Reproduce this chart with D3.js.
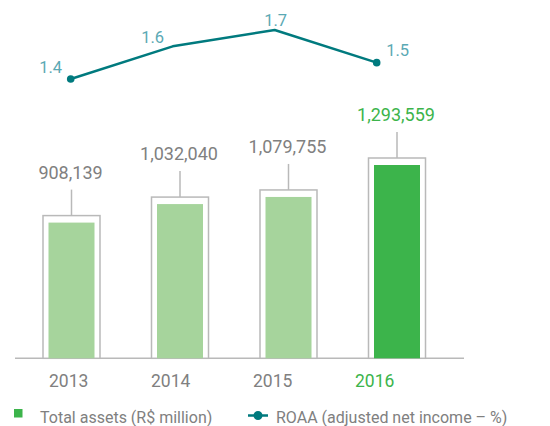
<!DOCTYPE html>
<html><head><meta charset="utf-8">
<script src="https://cdn.jsdelivr.net/npm/d3@7"></script>
<style>body{margin:0;background:#fff}svg{display:block;font-family:Roboto,"Liberation Sans",sans-serif}</style>
</head><body><svg id="c" width="550" height="426"></svg>
<script>
const years = ["2013","2014","2015","2016"];
const totalAssets = [908139, 1032040, 1079755, 1293559];
const roaa = [1.4, 1.6, 1.7, 1.5];
const legendLabels = ["Total assets (R$ million)", "ROAA (adjusted net income – %)"];

const grey = "#808080", light = "#a6d49c", dark = "#3cb44b", outline = "#b9b9b9", teal = "#007a7e", tealText = "#5aa9b4";
const svg = d3.select("#c");
const base = 358.3;

const xLine = d3.scalePoint().domain(years).range([70.7, 376.7]);
const xBar = d3.scalePoint().domain(years).range([71.5, 397]);
const yBar = d3.scaleLinear().domain([0, 1293559]).range([base, 165]);
const yLine = d3.scaleLinear().domain([1.4, 1.7]).range([79, 30]);
const fmt = d3.format(",");
const last = years.length - 1;
const innerW = 46, pad = 5.5, topPad = 7, lead = 26;

// axis baseline
svg.append("line").attr("x1", 15).attr("x2", 464).attr("y1", base).attr("y2", base)
  .attr("stroke", outline).attr("stroke-width", 1.5);

const g = svg.selectAll("g.bar").data(years).join("g").attr("class", "bar");
g.append("rect")
  .attr("x", d => xBar(d) - innerW/2 - pad)
  .attr("y", (d,i) => yBar(totalAssets[i]) - topPad)
  .attr("width", innerW + 2*pad)
  .attr("height", (d,i) => base - yBar(totalAssets[i]) + topPad)
  .attr("fill", "#fff").attr("stroke", outline).attr("stroke-width", 1.5);
g.append("rect")
  .attr("x", d => xBar(d) - innerW/2)
  .attr("y", (d,i) => yBar(totalAssets[i]))
  .attr("width", innerW)
  .attr("height", (d,i) => base - yBar(totalAssets[i]))
  .attr("fill", (d,i) => i === last ? dark : light);
g.append("line")
  .attr("x1", d => xBar(d)).attr("x2", d => xBar(d))
  .attr("y1", (d,i) => yBar(totalAssets[i]) - topPad)
  .attr("y2", (d,i) => yBar(totalAssets[i]) - topPad - lead)
  .attr("stroke", outline).attr("stroke-width", 1.5);
g.append("text")
  .attr("x", d => xBar(d) - 1)
  .attr("y", (d,i) => yBar(totalAssets[i]) - topPad - lead - 11)
  .attr("text-anchor", "middle").attr("font-size", 18)
  .attr("fill", (d,i) => i === last ? dark : grey)
  .text((d,i) => fmt(totalAssets[i]));

// year labels
svg.selectAll("text.year").data(years).join("text").attr("class", "year")
  .attr("x", d => xLine(d) - 2).attr("y", 386.7)
  .attr("text-anchor", "middle").attr("font-size", 17.5)
  .attr("fill", (d,i) => i === last ? dark : grey)
  .text(d => d);

// ROAA line
const line = d3.line().x((d,i) => xLine(years[i])).y(d => yLine(d));
svg.append("path").datum(roaa).attr("d", line)
  .attr("fill", "none").attr("stroke", teal).attr("stroke-width", 2.5).attr("stroke-linejoin", "round");
svg.selectAll("circle.pt").data([0, last]).join("circle").attr("class", "pt")
  .attr("cx", i => xLine(years[i])).attr("cy", i => yLine(roaa[i])).attr("r", 3.8).attr("fill", teal);
const peak = roaa.indexOf(d3.max(roaa));
svg.selectAll("text.roaa").data(roaa).join("text").attr("class", "roaa")
  .attr("x", (d,i) => xLine(years[i]) + (i === peak ? 1 : i === last ? 21 : -20))
  .attr("y", (d,i) => yLine(d) - (i === peak ? 4.5 : i === 0 || i === last ? 6.5 : 3.5))
  .attr("text-anchor", "middle").attr("font-size", 16.5).attr("fill", tealText)
  .text(d => d.toFixed(1));

// legend
svg.append("rect").attr("x", 14).attr("y", 409).attr("width", 8.5).attr("height", 8.5).attr("fill", dark);
svg.append("text").attr("x", 40).attr("y", 422.5).attr("font-size", 16).attr("fill", grey).text(legendLabels[0]);
svg.append("line").attr("x1", 248).attr("x2", 268).attr("y1", 415.5).attr("y2", 415.5).attr("stroke", teal).attr("stroke-width", 2.5);
svg.append("circle").attr("cx", 258).attr("cy", 415.5).attr("r", 4.5).attr("fill", teal);
svg.append("text").attr("x", 276).attr("y", 422.5).attr("font-size", 16).attr("fill", grey).text(legendLabels[1]);
</script></body></html>
